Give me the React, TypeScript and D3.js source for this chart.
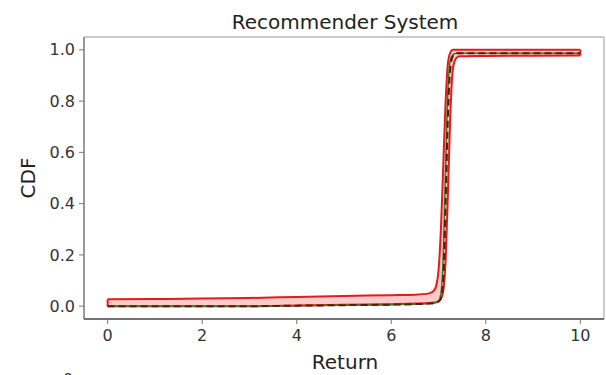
import * as React from "react";
import * as d3 from "d3";

// return values (x) and CDF readings of each curve
const returns = [0, 1, 2, 3, 4, 5, 6, 6.5, 6.8, 6.9, 6.95, 7.0, 7.05, 7.1, 7.15, 7.2, 7.25, 7.3, 7.35, 7.4, 7.45, 7.5, 8, 9, 10];
const upperBand = [0.027, 0.028, 0.03, 0.032, 0.036, 0.04, 0.043, 0.045, 0.05, 0.06, 0.08, 0.14, 0.3, 0.55, 0.8, 0.95, 0.99, 1.0, 1.0, 1.0, 1.0, 1.0, 1.0, 1.0, 1.0];
const lowerBand = [0.0, 0.0, 0.0, 0.0, 0.003, 0.006, 0.008, 0.01, 0.012, 0.014, 0.016, 0.02, 0.03, 0.06, 0.18, 0.45, 0.75, 0.92, 0.96, 0.972, 0.975, 0.975, 0.976, 0.977, 0.978];
const meanCdf = [0.0, 0.0, 0.0, 0.0, 0.002, 0.004, 0.006, 0.008, 0.01, 0.012, 0.014, 0.018, 0.03, 0.1, 0.4, 0.75, 0.93, 0.975, 0.985, 0.987, 0.987, 0.987, 0.987, 0.987, 0.987];
const greenCdf = [0.0, 0.0, 0.0, 0.0, 0.002, 0.004, 0.006, 0.008, 0.01, 0.012, 0.014, 0.02, 0.05, 0.2, 0.55, 0.85, 0.96, 0.98, 0.985, 0.987, 0.987, 0.987, 0.987, 0.987, 0.987];

const xTicks = [0, 2, 4, 6, 8, 10];
const yTicks = [0, 0.2, 0.4, 0.6, 0.8, 1.0];

export default function App() {
  const left = 84;
  const right = 604;
  const top = 37;
  const bottom = 319;

  const x = d3.scaleLinear().domain([-0.5, 10.5]).range([left, right]);
  const y = d3.scaleLinear().domain([-0.05, 1.05]).range([bottom, top]);

  const pts = (vals: number[]) => returns.map((r, i) => [r, vals[i]] as [number, number]);

  const line = d3
    .line<[number, number]>()
    .x((d) => x(d[0]))
    .y((d) => y(d[1]))
    .curve(d3.curveMonotoneX);

  const area = d3
    .area<number>()
    .x((_, i) => x(returns[i]))
    .y0((_, i) => y(lowerBand[i]))
    .y1((_, i) => y(upperBand[i]))
    .curve(d3.curveMonotoneX);

  const font = "DejaVu Sans, sans-serif";
  const n = returns.length;
  const closeLeft = `M${x(returns[0])},${y(lowerBand[0])}L${x(returns[0])},${y(upperBand[0])}`;
  const closeRight = `M${x(returns[n - 1])},${y(lowerBand[n - 1])}L${x(returns[n - 1])},${y(upperBand[n - 1])}`;

  return (
    <svg
      width={606}
      height={375}
      style={{ position: "absolute", left: 0, top: 0, background: "#fff" }}
      fontFamily={font}
    >
      <text x={345} y={29} textAnchor="middle" fontSize={20} fill="#222">
        Recommender System
      </text>

      {/* band between the bounds */}
      <path d={area(returns) ?? ""} fill="#ffcaca" stroke="none" />
      <path d={line(pts(upperBand)) ?? ""} fill="none" stroke="#e41a1c" strokeWidth={2} />
      <path d={line(pts(lowerBand)) ?? ""} fill="none" stroke="#e41a1c" strokeWidth={2} />
      <path d={closeLeft} stroke="#e41a1c" strokeWidth={2} />
      <path d={closeRight} stroke="#e41a1c" strokeWidth={2} />
      <path d={line(pts(greenCdf)) ?? ""} fill="none" stroke="#3a7d1a" strokeWidth={1.5} />
      <path
        d={line(pts(meanCdf)) ?? ""}
        fill="none"
        stroke="#5a1a10"
        strokeWidth={2}
        strokeDasharray="7,4"
      />

      {/* spines */}
      <line x1={left} x2={right} y1={top} y2={top} stroke="#bbb" strokeWidth={1.5} />
      <line x1={right} x2={right} y1={top} y2={bottom} stroke="#bbb" strokeWidth={1.5} />
      <line x1={left} x2={left} y1={top} y2={bottom} stroke="#777" strokeWidth={1.5} />
      <line x1={left} x2={right} y1={bottom} y2={bottom} stroke="#444" strokeWidth={1.5} />

      {xTicks.map((t) => (
        <g key={t} transform={`translate(${x(t)},${bottom})`}>
          <line y2={5} stroke="#777" />
          <text y={22} textAnchor="middle" fontSize={16} fill="#333">
            {t}
          </text>
        </g>
      ))}
      {yTicks.map((t) => (
        <g key={t} transform={`translate(${left},${y(t)})`}>
          <line x2={-5} stroke="#777" />
          <text x={-9} dy="0.35em" textAnchor="end" fontSize={16} fill="#333">
            {t.toFixed(1)}
          </text>
        </g>
      ))}

      <text x={345} y={369} textAnchor="middle" fontSize={20} fill="#222">
        Return
      </text>
      <text
        transform={`translate(35, ${(top + bottom) / 2}) rotate(-90)`}
        textAnchor="middle"
        fontSize={20}
        fill="#222"
      >
        CDF
      </text>
      <text x={68} y={385} textAnchor="middle" fontSize={16} fill="#333">
        0
      </text>
    </svg>
  );
}
